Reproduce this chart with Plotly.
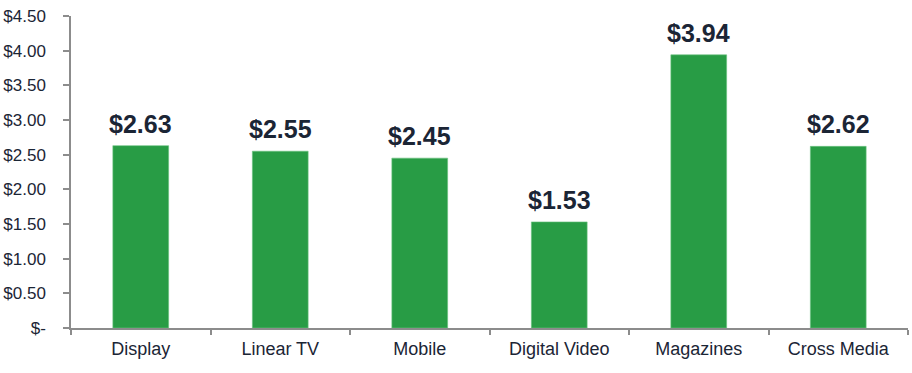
import plotly.graph_objects as go

categories = ["Display", "Linear TV", "Mobile", "Digital Video", "Magazines", "Cross Media"]
values = [2.63, 2.55, 2.45, 1.53, 3.94, 2.62]
y_ticks = [0, 0.5, 1.0, 1.5, 2.0, 2.5, 3.0, 3.5, 4.0, 4.5]
y_tick_labels = ["$-", "$0.50", "$1.00", "$1.50", "$2.00", "$2.50", "$3.00", "$3.50", "$4.00", "$4.50"]

bar_color = "#289c45"
text_color = "#1b2535"
axis_color = "#8c8c8c"
font_family = "Liberation Sans, Arial, sans-serif"

fig = go.Figure(
    go.Bar(
        x=categories,
        y=values,
        marker=dict(color=bar_color, line=dict(color="#6cc381", width=0.6)),
        hoverinfo="x+y",
    )
)

# Value labels above each bar
for cat, val in zip(categories, values):
    fig.add_annotation(
        x=cat,
        y=val,
        text=f"<b>${val:.2f}</b>",
        showarrow=False,
        yanchor="bottom",
        yshift=6,
        font=dict(family=font_family, size=25, color=text_color),
    )

fig.update_layout(
    width=912,
    height=373,
    margin=dict(l=71, r=4, t=16, b=45),
    paper_bgcolor="white",
    plot_bgcolor="white",
    bargap=0.6,
    showlegend=False,
    font=dict(family=font_family, color=text_color),
)

fig.update_xaxes(
    type="category",
    showline=True,
    linecolor=axis_color,
    linewidth=1.5,
    ticks="outside",
    tickson="boundaries",
    ticklen=5,
    tickcolor=axis_color,
    tickwidth=1.5,
    ticklabelstandoff=4,
    tickfont=dict(size=18, color=text_color),
    showgrid=False,
    zeroline=False,
)

fig.update_yaxes(
    range=[0, 4.5],
    tickvals=y_ticks,
    ticktext=y_tick_labels,
    showline=True,
    linecolor=axis_color,
    linewidth=1.5,
    ticks="outside",
    ticklen=6,
    tickcolor=axis_color,
    tickwidth=1.5,
    ticklabelstandoff=14,
    tickfont=dict(size=17, color=text_color),
    showgrid=False,
    zeroline=False,
)

fig.write_html("out.html")
